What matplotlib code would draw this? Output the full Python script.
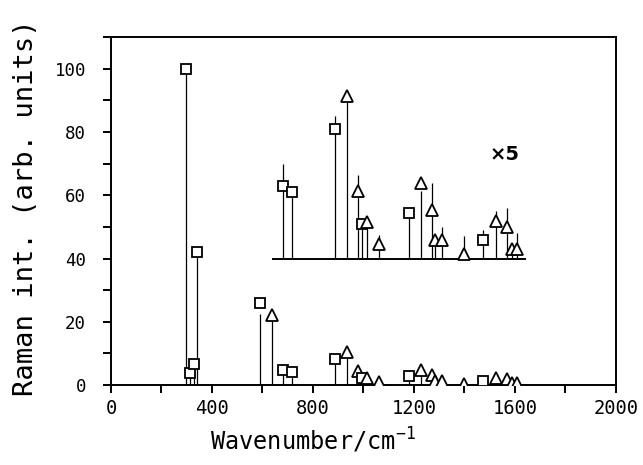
import matplotlib
matplotlib.use('Agg')
from matplotlib import pyplot as plt
from matplotlib.ticker import MultipleLocator, FuncFormatter
import numpy as np

plt.rcParams['font.family'] = 'DejaVu Sans Mono'
plt.rcParams['mathtext.fontset'] = 'custom'
plt.rcParams['mathtext.rm'] = 'DejaVu Sans Mono'
plt.rcParams['mathtext.default'] = 'rm'

# Band positions (cm-1), marker intensity, stem intensity, marker symbol
wavenumber = [297, 313, 329, 341, 590, 636, 680, 717, 887, 934, 978, 994, 1014,
              1061, 1180, 1228, 1271, 1283, 1311, 1398, 1473, 1525, 1568, 1588, 1608]
marker_int = [100, 3.8, 6.5, 42, 26, 22, 4.6, 4.2, 8.2, 10.3, 4.3, 2.2, 2.3,
              0.9, 2.9, 4.8, 3.1, 1.2, 1.2, 0.3, 1.2, 2.35, 2.0, 0.6, 0.6]
stem_int = [100, 3.5, 6.0, 42, 22.5, 22, 6.0, 4.2, 9.0, 10.3, 5.3, 2.2, 2.6,
            1.5, 2.9, 4.3, 4.8, 1.2, 2.0, 1.4, 1.8, 3.0, 3.2, 0.6, 1.6]
symbol = ['s', 's', 's', 's', 's', '^', 's', 's', 's', '^', '^', 's', '^',
          '^', 's', '^', '^', '^', '^', '^', 's', '^', '^', '^', '^']

# expanded (x5) trace
inset_range = (636, 1645)
inset_base = 40
inset_scale = 5

fig = plt.figure(figsize=(6.43, 4.65), dpi=100)
ax = fig.add_axes([0.1726, 0.172, 0.7854, 0.748])

wn = np.array(wavenumber)
mk = np.array(marker_int)
st = np.array(stem_int)
msize = {'s': 7, '^': 8}

# main spectrum
ax.vlines(wn, 0, st, color='k', lw=0.9)
for x, y, m in zip(wn, mk, symbol):
    ax.plot(x, y, marker=m, ms=msize[m], mfc='white', mec='k', mew=1.3, ls='none', zorder=3)

# x5 expanded part
sel = (wn > inset_range[0] + 5) & (wn < inset_range[1])
ax.hlines(inset_base, inset_range[0], inset_range[1], color='k', lw=1.4)
ax.vlines(wn[sel], inset_base, inset_base + inset_scale * st[sel], color='k', lw=0.9)
for x, y, m in zip(wn[sel], mk[sel], np.array(symbol)[sel]):
    ax.plot(x, inset_base + inset_scale * y, marker=m, ms=msize[m], mfc='white', mec='k',
            mew=1.3, ls='none', zorder=3)
ax.text(1560, 73, '×5', fontsize=14, fontweight='bold', family='DejaVu Sans',
        ha='center', va='center')

ax.set_xlim(0, 2000)
ax.set_ylim(0, 110)
ax.xaxis.set_major_locator(MultipleLocator(200))
ax.xaxis.set_major_formatter(FuncFormatter(lambda v, p: '%d' % v if v % 400 == 0 else ''))
ax.yaxis.set_major_locator(MultipleLocator(10))
ax.yaxis.set_major_formatter(FuncFormatter(lambda v, p: '%d' % v if v % 20 == 0 else ''))
ax.tick_params(direction='out', length=6, width=1.4)
ax.tick_params(axis='x', pad=4, labelsize=13.5)
ax.tick_params(axis='y', pad=12, labelsize=12.5)
for s in ax.spines.values():
    s.set_linewidth(1.4)

ax.set_xlabel('Wavenumber/cm$^{-1}$', fontsize=17)
ax.xaxis.set_label_coords(0.40, -0.118)
ax.set_ylabel('Raman int. (arb. units)', fontsize=19.5)
ax.yaxis.set_label_coords(-0.143, 0.51)

fig.savefig('out.png', dpi=100)
